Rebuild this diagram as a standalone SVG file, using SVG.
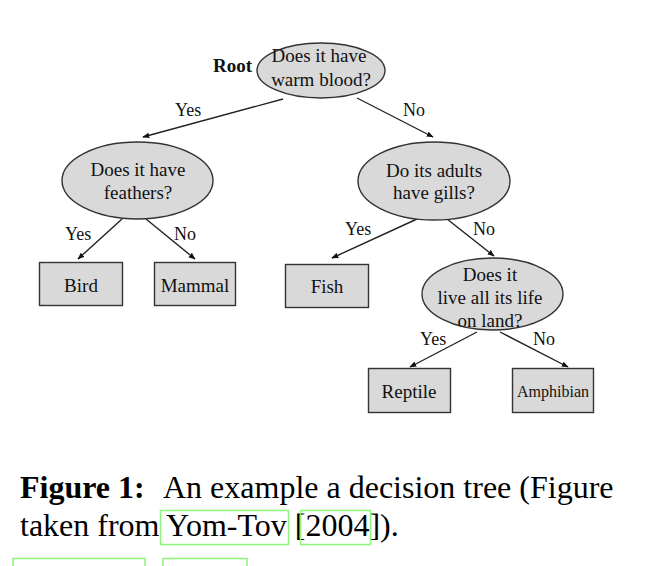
<svg xmlns="http://www.w3.org/2000/svg" width="658" height="566" viewBox="0 0 658 566">
<style>
.t{font-family:"Liberation Serif","Times New Roman",serif;font-size:19px;fill:#111;text-anchor:middle}
.lb{font-family:"Liberation Serif","Times New Roman",serif;font-size:18px;fill:#111}
.nd{fill:#d9d9d9;stroke:#333;stroke-width:1.4}
.ed{stroke:#222;stroke-width:1.4;fill:none;marker-end:url(#ah)}
.cap{font-family:"Liberation Serif","Times New Roman",serif;font-size:32px;fill:#000}
.gb{fill:none;stroke:#8cf57a;stroke-width:1.5}
</style>
<defs>
<marker id="ah" viewBox="0 0 10 10" refX="9" refY="5" markerWidth="7" markerHeight="7" markerUnits="userSpaceOnUse" orient="auto">
<path d="M0,1 L10,5 L0,9 z" fill="#111"/>
</marker>
</defs>
<rect width="658" height="566" fill="#fff"/>
<g id="connectors">
<line class="ed" x1="283" y1="99" x2="143" y2="137"/>
<line class="ed" x1="357" y1="98" x2="433" y2="137"/>
<line class="ed" x1="122" y1="219" x2="78" y2="259"/>
<line class="ed" x1="146" y1="219" x2="195" y2="259"/>
<line class="ed" x1="417" y1="219" x2="332" y2="258"/>
<line class="ed" x1="447" y1="219" x2="494" y2="256"/>
<line class="ed" x1="477" y1="332" x2="410" y2="367"/>
<line class="ed" x1="500" y1="332" x2="568" y2="367"/>
<text class="lb" x="175" y="116">Yes</text>
<text class="lb" x="403" y="116">No</text>
<text class="lb" x="65" y="240">Yes</text>
<text class="lb" x="174" y="240">No</text>
<text class="lb" x="345" y="235">Yes</text>
<text class="lb" x="473" y="235">No</text>
<text class="lb" x="420" y="345">Yes</text>
<text class="lb" x="533" y="345">No</text>
</g>
<g id="root">
<text x="213" y="72" style="font-family:'Liberation Serif','Times New Roman',serif;font-size:19px;font-weight:bold;fill:#111">Root</text>
<ellipse class="nd" cx="321" cy="70.5" rx="64" ry="27.5"/>
<text class="t" x="319" y="62">Does it have</text>
<text class="t" x="321" y="86">warm blood?</text>
</g>
<g id="feathers">
<ellipse class="nd" cx="137.5" cy="180.5" rx="75.5" ry="38.5"/>
<text class="t" x="138" y="176">Does it have</text>
<text class="t" x="138" y="199">feathers?</text>
</g>
<g id="gills">
<ellipse class="nd" cx="434" cy="181" rx="76" ry="39"/>
<text class="t" x="434" y="177">Do its adults</text>
<text class="t" x="434" y="199">have gills?</text>
</g>
<g id="land">
<ellipse class="nd" cx="492.5" cy="294" rx="70.5" ry="36"/>
<text class="t" x="490" y="281">Does it</text>
<text class="t" x="490" y="304">live all its life</text>
<text class="t" x="490" y="327">on land?</text>
</g>
<g id="bird">
<rect class="nd" x="39.5" y="262.5" width="83" height="43"/>
<text class="t" x="81" y="292">Bird</text>
</g>
<g id="mammal">
<rect class="nd" x="154.5" y="262.5" width="81" height="43"/>
<text class="t" x="195" y="292">Mammal</text>
</g>
<g id="fish">
<rect class="nd" x="285.5" y="264.5" width="83" height="43"/>
<text class="t" x="327" y="293">Fish</text>
</g>
<g id="reptile">
<rect class="nd" x="368.5" y="368.5" width="82" height="44"/>
<text class="t" x="409" y="398">Reptile</text>
</g>
<g id="amphibian">
<rect class="nd" x="512.5" y="368.5" width="81" height="44"/>
<text class="t" x="553" y="397" style="font-size:16px">Amphibian</text>
</g>
<g id="caption">
<text class="cap" x="20" y="498" style="font-weight:bold">Figure 1:</text>
<text class="cap" x="163" y="498">An example a decision tree (Figure</text>
<text class="cap" x="20" y="536">taken from <tspan x="166">Yom-Tov</tspan> [2004]).</text>
<rect class="gb" x="160.5" y="510.5" width="128" height="34"/>
<rect class="gb" x="300.5" y="510.5" width="70" height="34"/>
<rect class="gb" x="13" y="558.5" width="132" height="12"/>
<rect class="gb" x="163" y="558.5" width="84" height="12"/>
</g>
</svg>
